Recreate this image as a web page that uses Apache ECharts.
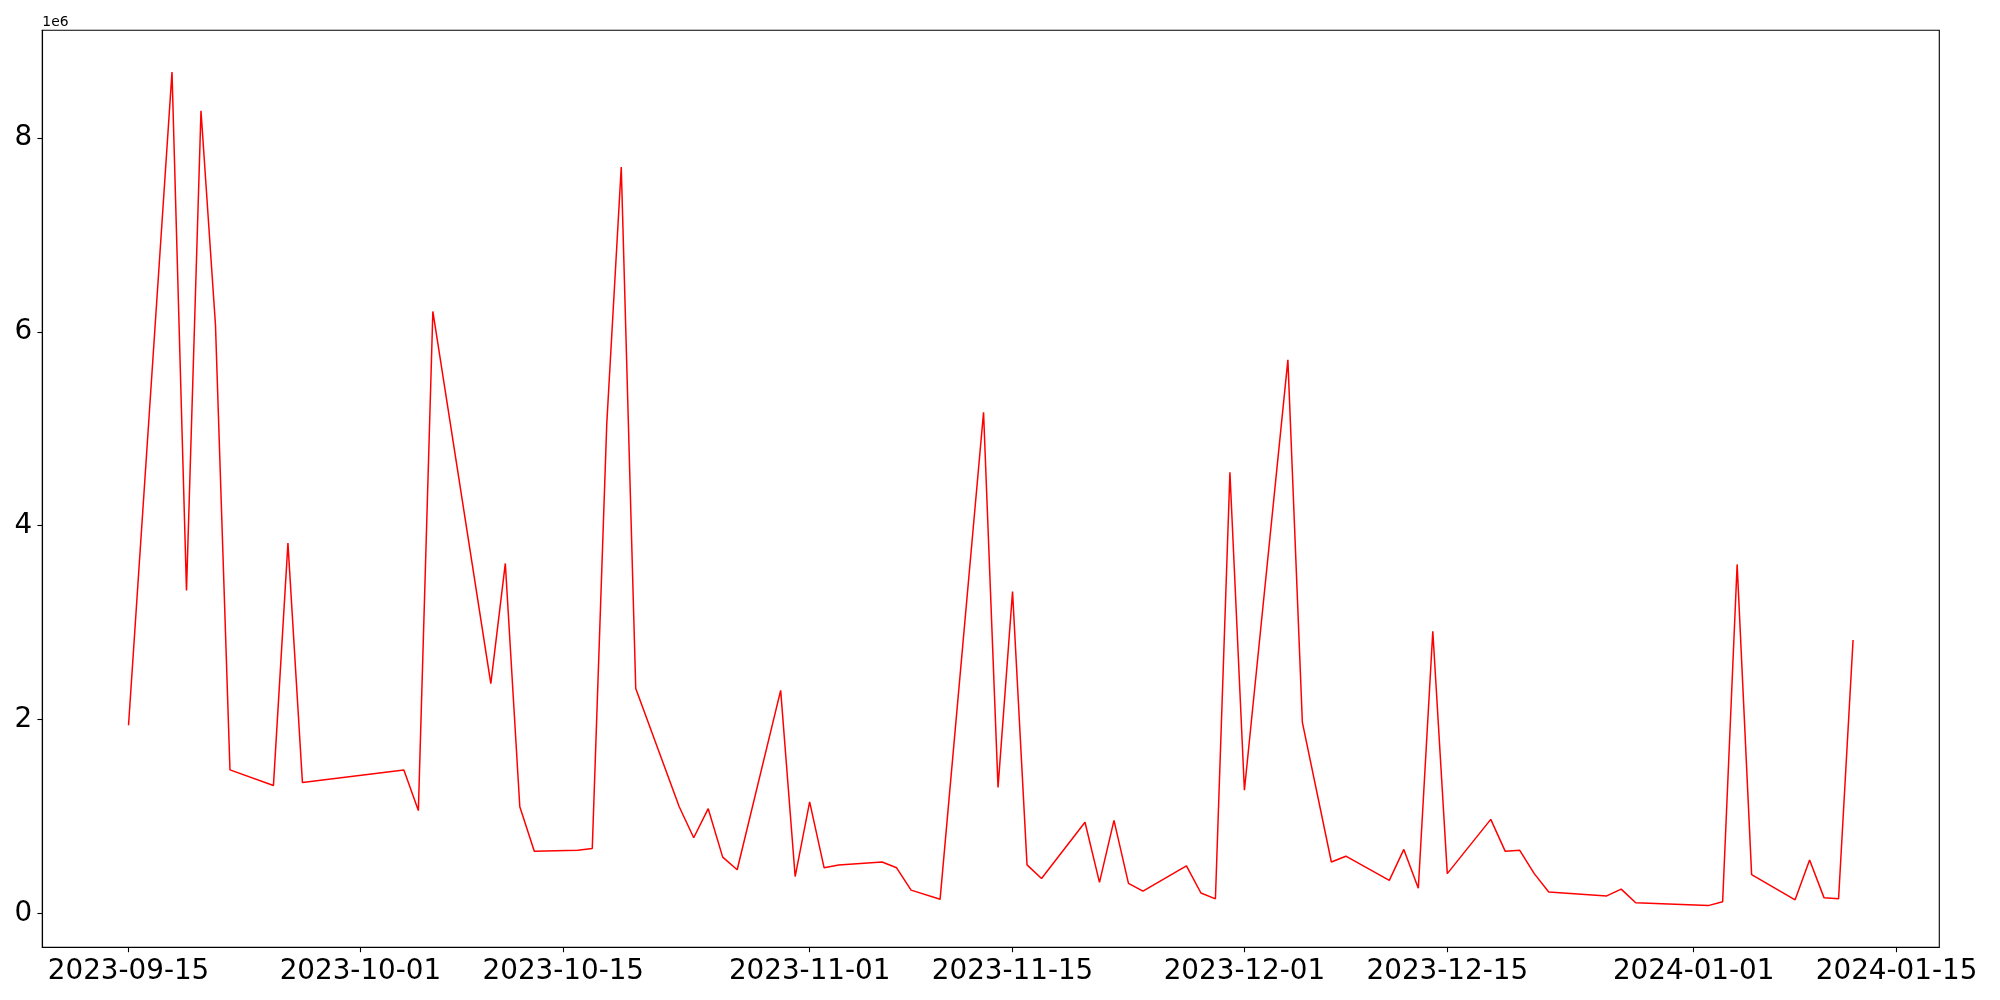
<!DOCTYPE html>
<html>
<head>
<meta charset="utf-8">
<script src="https://cdn.jsdelivr.net/npm/echarts@6/dist/echarts.min.js"></script>
<style>
html,body{margin:0;padding:0;background:#fff;}
#chart{width:2000px;height:1000px;}
</style>
</head>
<body>
<div id="chart"></div>
<script>
// ---- data (values in units of 1e6) ----
const dates = [
  '2023-09-15','2023-09-18','2023-09-19','2023-09-20','2023-09-21','2023-09-22','2023-09-25','2023-09-26','2023-09-27',
  '2023-10-04','2023-10-05','2023-10-06','2023-10-10','2023-10-11','2023-10-12','2023-10-13','2023-10-16','2023-10-17',
  '2023-10-18','2023-10-19','2023-10-20','2023-10-23','2023-10-24','2023-10-25','2023-10-26','2023-10-27','2023-10-30',
  '2023-10-31','2023-11-01','2023-11-02','2023-11-03','2023-11-06','2023-11-07','2023-11-08','2023-11-10','2023-11-13',
  '2023-11-14','2023-11-15','2023-11-16','2023-11-17','2023-11-20','2023-11-21','2023-11-22','2023-11-23','2023-11-24',
  '2023-11-27','2023-11-28','2023-11-29','2023-11-30','2023-12-01','2023-12-04','2023-12-05','2023-12-07','2023-12-08',
  '2023-12-11','2023-12-12','2023-12-13','2023-12-14','2023-12-15','2023-12-18','2023-12-19','2023-12-20','2023-12-21',
  '2023-12-22','2023-12-26','2023-12-27','2023-12-28','2024-01-02','2024-01-03','2024-01-04','2024-01-05','2024-01-08',
  '2024-01-09','2024-01-10','2024-01-11','2024-01-12'
];
const valuesMillions = [
  1.94, 8.68, 3.33, 8.28, 6.07, 1.48, 1.32, 3.82, 1.35,
  1.48, 1.06, 6.21, 2.37, 3.61, 1.10, 0.64, 0.65, 0.67,
  5.05, 7.70, 2.32, 1.10, 0.78, 1.08, 0.58, 0.45, 2.30,
  0.38, 1.15, 0.47, 0.50, 0.53, 0.47, 0.24, 0.145, 5.17,
  1.30, 3.32, 0.50, 0.36, 0.94, 0.32, 0.96, 0.31, 0.23,
  0.49, 0.21, 0.15, 4.55, 1.27, 5.71, 1.97, 0.53, 0.59,
  0.34, 0.66, 0.26, 2.91, 0.41, 0.97, 0.64, 0.65, 0.41,
  0.22, 0.18, 0.25, 0.11, 0.08, 0.12, 3.60, 0.40, 0.14,
  0.55, 0.16, 0.15, 2.82
];
const xTickLabels = ['2023-09-15','2023-10-01','2023-10-15','2023-11-01','2023-11-15','2023-12-01','2023-12-15','2024-01-01','2024-01-15'];
const yTickLabels = [0, 2, 4, 6, 8];
const yScaleLabel = '1e6';

// ---- helpers ----
function toTime(s){ const p = s.split('-').map(Number); return Date.UTC(p[0], p[1]-1, p[2]); }
function pad(n){ return (n<10?'0':'')+n; }
function fmt(t){ const d = new Date(t); return d.getUTCFullYear()+'-'+pad(d.getUTCMonth()+1)+'-'+pad(d.getUTCDate()); }

const seriesData = dates.map((d,i)=>[toTime(d), valuesMillions[i]*1e6]);
const times = seriesData.map(p=>p[0]);
const vals = seriesData.map(p=>p[1]);
const tMin = Math.min(...times), tMax = Math.max(...times);
const vMin = Math.min(...vals), vMax = Math.max(...vals);
const tPad = (tMax-tMin)*0.05, vPad = (vMax-vMin)*0.05;

const FONT = 'DejaVu Sans';
const chart = echarts.init(document.getElementById('chart'), null, {renderer:'canvas'});
chart.setOption({
  animation:false,
  backgroundColor:'#fff',
  grid:{left:42.3, top:30.3, right:60.7, bottom:52.7, show:true, borderColor:'#000', borderWidth:1.1, backgroundColor:'transparent'},
  xAxis:{
    type:'value',
    min:tMin - tPad,
    max:tMax + tPad,
    axisLine:{show:true, onZero:false, lineStyle:{color:'#000', width:1.1}},
    axisTick:{show:true, length:4.9, lineStyle:{color:'#000', width:1.1}, customValues:xTickLabels.map(toTime)},
    axisLabel:{show:true, margin:10, color:'#000', fontFamily:FONT, fontSize:27.8,
      customValues:xTickLabels.map(toTime), formatter:function(v){ return fmt(v); }},
    splitLine:{show:false}
  },
  yAxis:{
    type:'value',
    min:vMin - vPad,
    max:vMax + vPad,
    name:yScaleLabel,
    nameLocation:'end',
    nameGap:1,
    nameTextStyle:{color:'#000', fontFamily:FONT, fontSize:13.9, align:'left', verticalAlign:'bottom'},
    axisLine:{show:true, onZero:false, lineStyle:{color:'#000', width:1.1}},
    axisTick:{show:true, length:4.9, lineStyle:{color:'#000', width:1.1}, customValues:yTickLabels.map(v=>v*1e6)},
    axisLabel:{show:true, margin:10, color:'#000', fontFamily:FONT, fontSize:27.8,
      customValues:yTickLabels.map(v=>v*1e6), formatter:function(v){ return String(Math.round(v/1e6)); }},
    splitLine:{show:false}
  },
  series:[{
    type:'line',
    data:seriesData,
    showSymbol:false,
    lineStyle:{color:'#ff0000', width:1.5},
    itemStyle:{color:'#ff0000'}
  }]
});
</script>
</body>
</html>
